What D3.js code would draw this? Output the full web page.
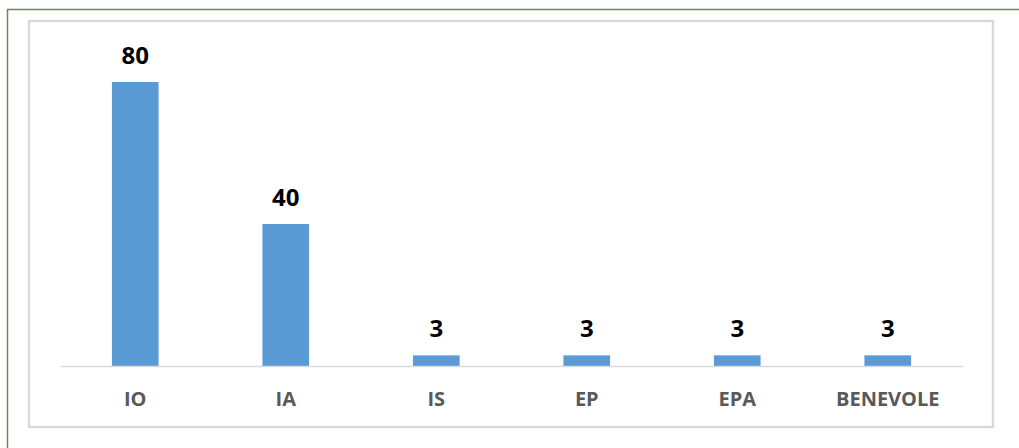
<!DOCTYPE html>
<html><head><meta charset="utf-8">
<script src="https://cdn.jsdelivr.net/npm/d3@7"></script>
<style>body{margin:0;background:#fff;}svg{display:block;}</style>
</head><body>
<svg id="c" width="1019" height="448"></svg>
<script>
const categories = ["IO","IA","IS","EP","EPA","BENEVOLE"];
const values = [80,40,3,3,3,3];

const svg = d3.select("#c");
// outer frame
svg.append("rect").attr("x",7.5).attr("y",9.5).attr("width",1030).attr("height",460)
  .attr("fill","none").attr("stroke","#6b8a5c").attr("stroke-width",1.5);
// inner chart area border
svg.append("rect").attr("x",29).attr("y",21).attr("width",964).attr("height",406)
  .attr("fill","#fff").attr("stroke","#d9d9d9").attr("stroke-width",2.5);

const x = d3.scaleBand().domain(categories).range([60,963]).padding(0);
const y = d3.scaleLinear().domain([0,80]).range([366,82]);
const bw = x.bandwidth()*0.31;

const g = svg.append("g");
g.selectAll("rect.bar").data(values).enter().append("rect").attr("class","bar")
  .attr("x",(d,i)=>x(categories[i])+x.bandwidth()/2-bw/2)
  .attr("y",d=>y(d)).attr("width",bw).attr("height",d=>y(0)-y(d))
  .attr("fill","#5b9bd5");

const ax = svg.append("g").attr("transform","translate(0,"+y(0)+")")
  .call(d3.axisBottom(x).tickSize(0).tickPadding(0));
ax.select(".domain").attr("stroke","#d9d9d9").attr("stroke-width",1.5);
ax.selectAll("text").attr("dy",null).attr("y",40)
  .attr("font-family","'Open Sans', sans-serif").attr("font-weight","bold")
  .attr("font-size",20).attr("fill","#595959");

g.selectAll("text.val").data(values).enter().append("text").attr("class","val")
  .attr("x",(d,i)=>x(categories[i])+x.bandwidth()/2)
  .attr("y",d=>y(d)-18).attr("text-anchor","middle")
  .attr("font-family","'Open Sans', sans-serif").attr("font-weight","bold")
  .attr("font-size",24).attr("fill","#000").text(d=>d);
</script>
</body></html>
